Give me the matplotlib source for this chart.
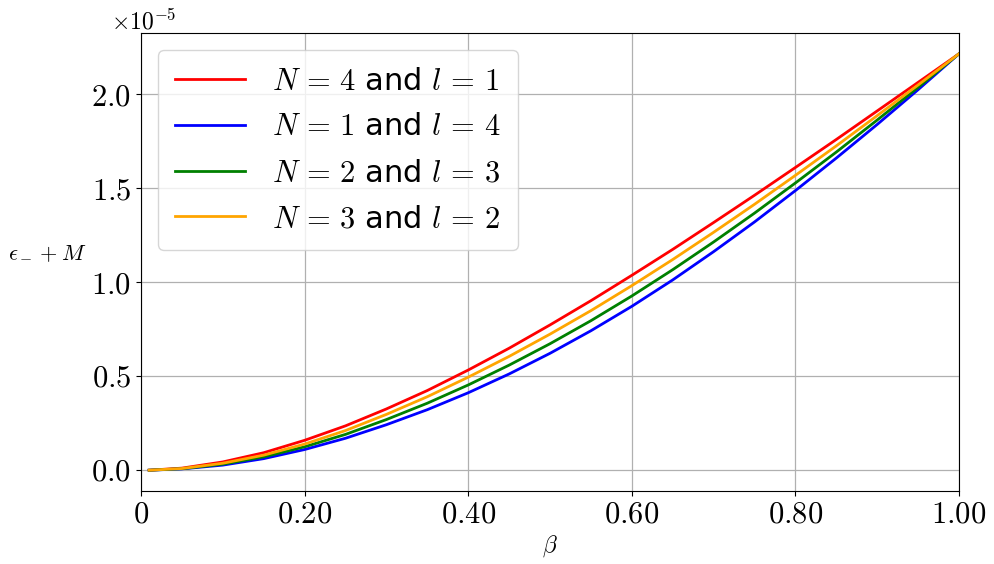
import numpy as np
import matplotlib
matplotlib.use("Agg")
import matplotlib.pyplot as plt
from matplotlib.ticker import FuncFormatter, ScalarFormatter, MultipleLocator

plt.rcParams['font.family'] = 'serif'
plt.rcParams['font.serif'] = ['cmr10', 'DejaVu Serif']
plt.rcParams['mathtext.fontset'] = 'cm'
plt.rcParams['axes.formatter.use_mathtext'] = True

# beta values and curves (in units of 1e-5)
beta = [0.01, 0.05, 0.10, 0.15, 0.20, 0.25, 0.30, 0.35, 0.40, 0.45, 0.50,
        0.55, 0.60, 0.65, 0.70, 0.75, 0.80, 0.85, 0.90, 0.95, 1.00]
red_N4_l1 = [0.0, 0.011, 0.044, 0.093, 0.159, 0.236, 0.326, 0.424, 0.533, 0.649, 0.773,
             0.902, 1.037, 1.175, 1.318, 1.463, 1.611, 1.760, 1.912, 2.064, 2.216]
blue_N1_l4 = [0.0, 0.007, 0.027, 0.0615, 0.110, 0.170, 0.242, 0.322, 0.412, 0.512, 0.622,
              0.742, 0.872, 1.0125, 1.163, 1.321, 1.488, 1.661, 1.840, 2.025, 2.216]
green_N2_l3 = [0.0, 0.008, 0.032, 0.071, 0.1245, 0.1905, 0.2695, 0.3565, 0.4535, 0.559, 0.673,
               0.7955, 0.927, 1.067, 1.2145, 1.368, 1.5285, 1.693, 1.8635, 2.0375, 2.216]
orange_N3_l2 = [0.0, 0.009, 0.037, 0.080, 0.139, 0.211, 0.297, 0.391, 0.495, 0.6055, 0.724,
                0.849, 0.982, 1.121, 1.266, 1.415, 1.569, 1.726, 1.887, 2.050, 2.216]
scale = 1e-5

series = [
    (red_N4_l1, 'red', r'$N\,=\,4$ and $l\,=\,1$'),
    (blue_N1_l4, 'blue', r'$N\,=\,1$ and $l\,=\,4$'),
    (green_N2_l3, 'green', r'$N\,=\,2$ and $l\,=\,3$'),
    (orange_N3_l2, 'orange', r'$N\,=\,3$ and $l\,=\,2$'),
]

fig = plt.figure(figsize=(9.95, 5.64), dpi=100)
ax = fig.add_axes([0.1417, 0.1294, 0.8221, 0.8121])

for vals, col, lab in series:
    ax.plot(beta, np.array(vals) * scale, color=col, lw=2, label=lab)

ax.set_xlim(0, 1)
ax.xaxis.set_major_locator(MultipleLocator(0.2))
ax.xaxis.set_major_formatter(FuncFormatter(
    lambda v, p: r'$\mathdefault{0}$' if abs(v) < 1e-9 else r'$\mathdefault{%.2f}$' % v))
sf = ScalarFormatter(useMathText=True)
ax.yaxis.set_major_formatter(sf)
ax.yaxis.set_major_locator(MultipleLocator(0.5e-5))
ax.tick_params(labelsize=22)
ot = ax.yaxis.get_offset_text()
ot.set_fontsize(17)
ot.set_x(-0.037)

ax.grid(True, color='#b0b0b0', lw=0.9)
ax.set_axisbelow(True)

ax.set_xlabel(r'$\beta$', fontsize=17)
ax.set_ylabel(r'$\epsilon_- + M$', fontsize=16, rotation=0, labelpad=28)
ax.yaxis.set_label_coords(-0.115, 0.5)

leg = ax.legend(loc='upper left', prop={'family': 'DejaVu Sans', 'size': 22},
                handlelength=2.3, handletextpad=0.9, labelspacing=0.55,
                borderpad=0.55, borderaxespad=0.55, framealpha=0.8)

fig.savefig('out.png', dpi=100)
